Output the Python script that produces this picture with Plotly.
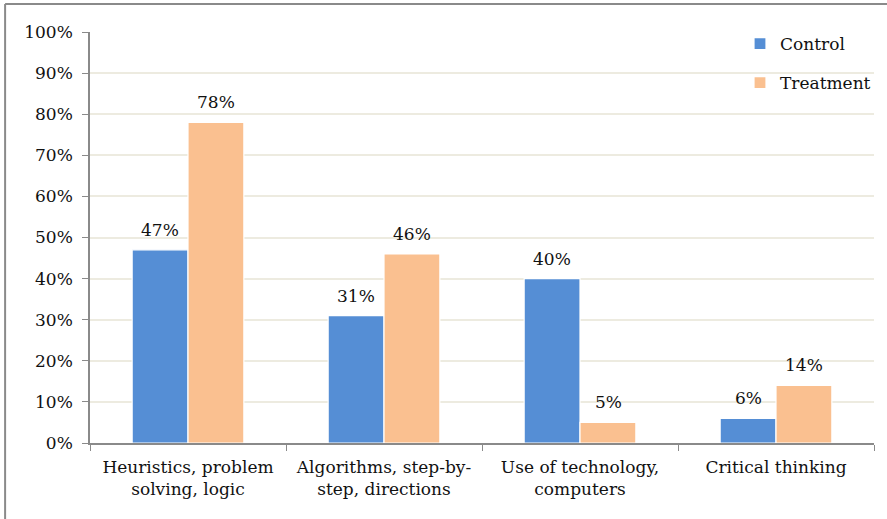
import plotly.graph_objects as go

categories = ["Heuristics, problem<br>solving, logic", "Algorithms, step-by-<br>step, directions",
              "Use of technology,<br>computers", "Critical thinking"]
control = [47, 31, 40, 6]
treatment = [78, 46, 5, 14]
series_names = ["Control", "Treatment"]
colors = ["#558ED5", "#FAC090"]
y_ticks = list(range(0, 101, 10))
y_tick_labels = [f"{v}%" for v in y_ticks]

FONT = "DejaVu Serif, serif"
FS = 17
W, H = 887, 519
L, R, T, B = 90, 12, 32, 76

fig = go.Figure()
for i, (name, vals) in enumerate(zip(series_names, [control, treatment])):
    fig.add_trace(go.Bar(
        x=categories, y=vals, name=name, marker_color=colors[i],
        marker_line=dict(color="white", width=1.2),
        legendgroup=name, hoverinfo="skip",
    ))

annotations = []
for i, vals in enumerate([control, treatment]):
    for c, v in zip(categories, vals):
        annotations.append(dict(
            x=c, y=v, xref="x", yref="y", text=f"{v}%", showarrow=False,
            xshift=-28 if i == 0 else 28, yanchor="bottom", yshift=8,
            font=dict(family=FONT, size=FS, color="#111"),
        ))

pw = W - L - R
ph = H - T - B
fig.update_layout(
    width=W, height=H,
    margin=dict(l=L, r=R, t=T, b=B),
    paper_bgcolor="white", plot_bgcolor="white",
    barmode="group", bargap=0.43, bargroupgap=0.0,
    font=dict(family=FONT, size=FS, color="#111"),
    showlegend=True,
    legend=dict(x=(740 - L) / pw, y=1 - (26 - T) / ph, xanchor="left", yanchor="top",
                bgcolor="rgba(0,0,0,0)", font=dict(family=FONT, size=FS),
                tracegroupgap=14, itemwidth=30),
    annotations=annotations,
    shapes=[
        dict(type="line", xref="paper", yref="paper",
             x0=(5 - L) / pw, x1=(W + 5 - L) / pw, y0=1 + (T - 4) / ph, y1=1 + (T - 4) / ph,
             line=dict(color="#8a8a8a", width=2)),
        dict(type="line", xref="paper", yref="paper",
             x0=(5 - L) / pw, x1=(5 - L) / pw, y0=1 + (T - 4) / ph, y1=-(B + 10) / ph,
             line=dict(color="#8a8a8a", width=2)),
    ],
)
fig.update_yaxes(
    range=[0, 100], tickvals=y_ticks, ticktext=y_tick_labels,
    showgrid=True, gridcolor="#EDEBE0", gridwidth=1.5,
    showline=True, linecolor="#8a8a8a", linewidth=1.5,
    ticks="outside", ticklen=6, tickcolor="#8a8a8a", ticklabelstandoff=6,
    tickfont=dict(family=FONT, size=FS), zeroline=False,
)
fig.update_xaxes(
    showline=True, linecolor="#8a8a8a", linewidth=1.5,
    ticks="outside", ticklen=6, tickcolor="#8a8a8a", tickson="boundaries",
    ticklabelstandoff=8,
    tickfont=dict(family=FONT, size=FS), showgrid=False,
)
fig.write_html("out.html")
